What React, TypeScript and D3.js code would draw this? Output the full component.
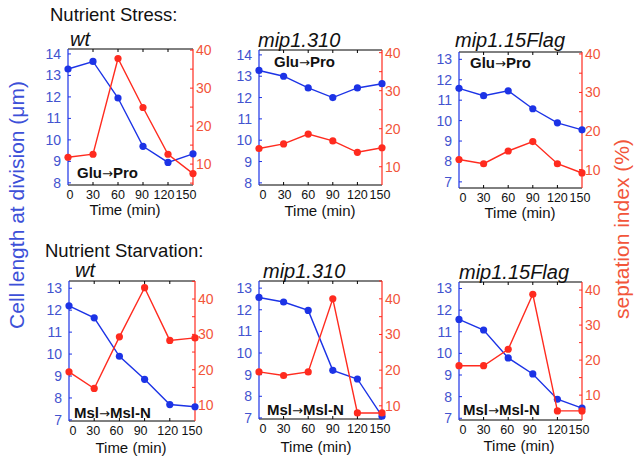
import React from "react";
import * as d3 from "d3";

// ---- data ----
const times = [0, 30, 60, 90, 120, 150];
const xTickLabels = ["0", "30", "60", "90", "120", "150"];

const stressWtLength = [13.3, 13.65, 11.95, 9.7, 8.95, 9.35];
const stressWtSeptation = [11.8, 12.6, 37.8, 24.9, 12.6, 7.5];
const stressMip310Length = [13.27, 13.0, 12.45, 12.0, 12.45, 12.65];
const stressMip310Septation = [14.8, 16.0, 18.6, 16.8, 13.8, 15.0];
const stressFlagLength = [11.58, 11.22, 11.46, 10.58, 9.89, 9.55];
const stressFlagSeptation = [12.6, 11.5, 14.8, 17.25, 11.5, 9.1];
const starvWtLength = [12.2, 11.65, 9.9, 8.85, 7.7, 7.6];
const starvWtSeptation = [19.4, 14.7, 29.3, 43.2, 28.3, 29.0];
const starvMip310Length = [12.57, 12.36, 11.97, 9.2, 8.8, 7.08];
const starvMip310Septation = [19.5, 18.5, 19.5, 40, 8, 8];
const starvFlagLength = [11.57, 11.08, 9.79, 9.05, 7.88, 7.47];
const starvFlagSeptation = [18.4, 18.4, 23.1, 38.8, 5.5, 5.5];

const strainTitles = ["wt", "mip1.310", "mip1.15Flag"];
const stressCondition = ["Glu", "Pro"];
const starvCondition = ["Msl", "Msl-N"];

// ---- style ----
const FONT = "'Liberation Sans', Arial, Helvetica, sans-serif";
const BLUE_LINE = "#1c33e6";
const BLUE_TEXT = "#4253cf";
const RED_LINE = "#ff2b1f";
const RED_TEXT = "#f2553a";

type Panel = {
  title: string;
  condition: string[];
  length: number[];
  septation: number[];
  box: [number, number, number, number]; // l t r b
  leftDomain: [number, number];
  rightDomain: [number, number];
  leftTicks: number[];
  titlePos: [number, number];
  condPos: [number, number];
  xlabelPos: [number, number];
  labelShift: number[];
};

const panels: Panel[] = [
  {
    title: strainTitles[0], condition: stressCondition,
    length: stressWtLength, septation: stressWtSeptation,
    box: [68, 49, 193, 185], leftDomain: [7.9, 14.23], rightDomain: [4.5, 40.3],
    leftTicks: d3.range(8, 15), titlePos: [70, 46], condPos: [77, 178], xlabelPos: [125, 215],
    labelShift: [2, 0, 0, -1, -4, -7],
  },
  {
    title: strainTitles[1], condition: stressCondition,
    length: stressMip310Length, septation: stressMip310Septation,
    box: [259, 50, 382, 185], leftDomain: [7.9, 14.23], rightDomain: [5.2, 40.7],
    leftTicks: d3.range(8, 15), titlePos: [258, 47], condPos: [274, 67], xlabelPos: [320, 216],
    labelShift: [4, 1, 0, 0, 0, -2],
  },
  {
    title: strainTitles[2], condition: stressCondition,
    length: stressFlagLength, septation: stressFlagSeptation,
    box: [459, 52, 582, 188], leftDomain: [6.7, 13.36], rightDomain: [5.2, 40.5],
    leftTicks: d3.range(7, 14), titlePos: [455, 47], condPos: [470, 68], xlabelPos: [520, 218],
    labelShift: [4, 0, 0, 0, 0, -2],
  },
  {
    title: strainTitles[0], condition: starvCondition,
    length: starvWtLength, septation: starvWtSeptation,
    box: [69, 281, 195, 421], leftDomain: [6.95, 13.33], rightDomain: [5.5, 45.1],
    leftTicks: d3.range(7, 14), titlePos: [75, 277], condPos: [74, 418], xlabelPos: [131, 453],
    labelShift: [4, -1, -3, -4, -2, -3],
  },
  {
    title: strainTitles[1], condition: starvCondition,
    length: starvMip310Length, septation: starvMip310Septation,
    box: [259, 281, 382, 419], leftDomain: [6.95, 13.33], rightDomain: [6.3, 45],
    leftTicks: d3.range(7, 14), titlePos: [263, 278], condPos: [267, 415], xlabelPos: [316, 452],
    labelShift: [4, 0, 0, 0, 0, -2],
  },
  {
    title: strainTitles[2], condition: starvCondition,
    length: starvFlagLength, septation: starvFlagSeptation,
    box: [459, 282, 582, 420], leftDomain: [6.92, 13.3], rightDomain: [2.9, 42.3],
    leftTicks: d3.range(7, 14), titlePos: [459, 279], condPos: [463, 415], xlabelPos: [519, 451],
    labelShift: [4, 0, -1, -3, 0, -3],
  },
];

function PanelView({ p }: { p: Panel }) {
  const [l, t, r, b] = p.box;
  const x = d3.scaleLinear().domain([0, 150]).range([l, r]);
  const yL = d3.scaleLinear().domain(p.leftDomain).range([b, t]);
  const yR = d3.scaleLinear().domain(p.rightDomain).range([b, t]);
  const lineL = d3.line<number>().x((_, i) => x(times[i])).y((d) => yL(d));
  const lineR = d3.line<number>().x((_, i) => x(times[i])).y((d) => yR(d));
  const rightMinor = d3.range(
    Math.ceil(p.rightDomain[0] / 5) * 5,
    p.rightDomain[1] + 0.001,
    5
  );
  const rightLabels = [10, 20, 30, 40].filter(
    (v) => v >= p.rightDomain[0] && v <= p.rightDomain[1] + 0.5
  );
  const tk = 3;
  return (
    <g>
      {/* frame */}
      <line x1={l} x2={r} y1={t} y2={t} stroke="#000" strokeWidth={1} />
      <line x1={l} x2={r} y1={b} y2={b} stroke="#000" strokeWidth={1} />
      {times.slice(1, -1).map((v) => (
        <g key={v}>
          <line x1={x(v)} x2={x(v)} y1={t} y2={t + tk} stroke="#000" />
          <line x1={x(v)} x2={x(v)} y1={b} y2={b - tk} stroke="#000" />
        </g>
      ))}
      <line x1={l} x2={l} y1={t} y2={b} stroke={BLUE_LINE} strokeWidth={1.2} />
      <line x1={r} x2={r} y1={t} y2={b} stroke={RED_LINE} strokeWidth={1.2} />
      {p.leftTicks.map((v) => (
        <g key={"l" + v}>
          <line x1={l} x2={l + tk} y1={yL(v)} y2={yL(v)} stroke={BLUE_LINE} />
          <text x={l - 7} y={yL(v) + 5} textAnchor="end" fontSize={14} fill={BLUE_TEXT} fontFamily={FONT}>
            {v}
          </text>
        </g>
      ))}
      {rightMinor.map((v) => (
        <line key={"rm" + v} x1={r} x2={r - tk} y1={yR(v)} y2={yR(v)} stroke={RED_LINE} />
      ))}
      {rightLabels.map((v) => (
        <text key={"r" + v} x={r + 3} y={yR(v) + 5} fontSize={14} fill={RED_TEXT} fontFamily={FONT}>
          {v}
        </text>
      ))}
      {times.map((v, i) => (
        <text key={"x" + v} x={x(v) + p.labelShift[i]} y={b + 14} textAnchor="middle" fontSize={12.5} fill="#111" fontFamily={FONT}>
          {xTickLabels[i]}
        </text>
      ))}
      <text x={p.xlabelPos[0]} y={p.xlabelPos[1]} textAnchor="middle" fontSize={15} fill="#111" fontFamily={FONT}>
        Time (min)
      </text>
      <text x={p.titlePos[0]} y={p.titlePos[1]} fontSize={20} fontStyle="italic" fill="#111" fontFamily={FONT}>
        {p.title}
      </text>
      {/* series */}
      <path d={lineL(p.length) || ""} fill="none" stroke={BLUE_LINE} strokeWidth={1.4} />
      {p.length.map((v, i) => (
        <circle key={"bc" + i} cx={x(times[i])} cy={yL(v)} r={3.6} fill={BLUE_LINE} />
      ))}
      <path d={lineR(p.septation) || ""} fill="none" stroke={RED_LINE} strokeWidth={1.4} />
      {p.septation.map((v, i) => (
        <circle key={"rc" + i} cx={x(times[i])} cy={yR(v)} r={3.6} fill={RED_LINE} />
      ))}
      <text x={p.condPos[0]} y={p.condPos[1]} fontSize={15} fontWeight="bold" fill="#111" fontFamily={FONT}>
        {p.condition[0]}
        <tspan fontFamily="'DejaVu Sans', sans-serif" fontWeight="normal" fontSize={13}>{"\u2192"}</tspan>
        {p.condition[1]}
      </text>
    </g>
  );
}

export default function App() {
  return (
    <svg
      width={636}
      height={460}
      style={{ position: "absolute", left: 0, top: 0, background: "#fff" }}
    >
      <rect width={636} height={460} fill="#fff" />
      <text x={50} y={21} fontSize={18.5} fill="#111" fontFamily={FONT}>
        Nutrient Stress:
      </text>
      <text x={45} y={257} fontSize={18.5} fill="#111" fontFamily={FONT}>
        Nutrient Starvation:
      </text>
      {panels.map((p, i) => (
        <PanelView key={i} p={p} />
      ))}
      <text
        transform="translate(24,205) rotate(-90)"
        textAnchor="middle"
        fontSize={21}
        fill="#3d50d8"
        fontFamily={FONT}
      >
        Cell length at division  (μm)
      </text>
      <text
        transform="translate(629,229) rotate(-90)"
        textAnchor="middle"
        fontSize={21}
        fill={RED_TEXT}
        fontFamily={FONT}
      >
        septation index (%)
      </text>
    </svg>
  );
}
